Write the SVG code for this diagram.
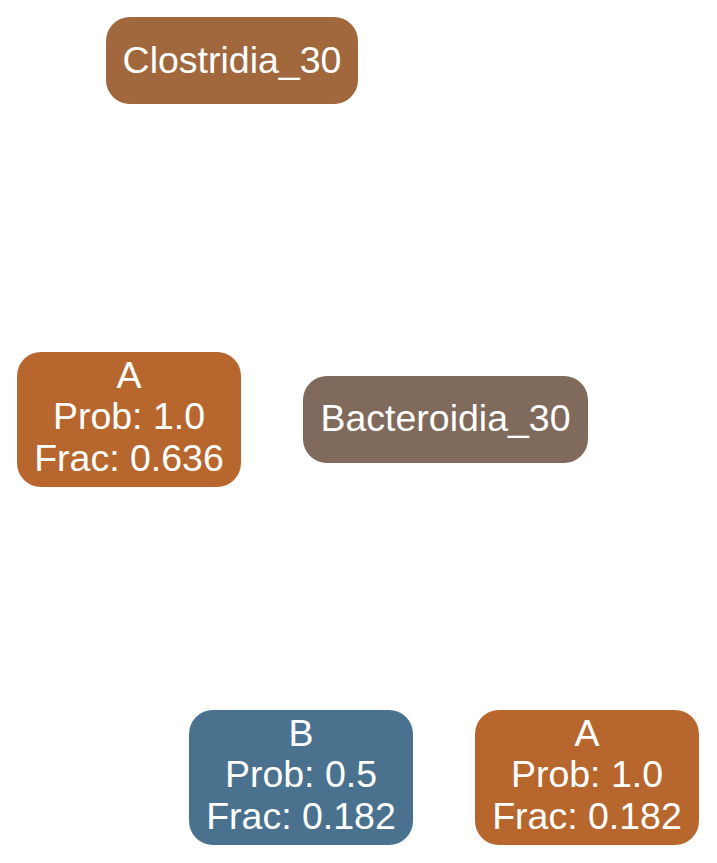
<svg xmlns="http://www.w3.org/2000/svg" width="717" height="863" viewBox="0 0 717 863">
<style>
text{font-family:"Liberation Sans",Arial,Helvetica,sans-serif;font-size:37.5px;fill:#ffffff;text-anchor:middle}
</style>
<rect width="717" height="863" fill="#ffffff"/>
<g id="connectors"></g>
<g id="clostridia_30">
<rect x="106" y="17" width="252" height="87" rx="24" fill="#A1683D"/>
<text x="232" y="73">Clostridia_30</text>
</g>
<g id="a_left">
<rect x="17" y="352" width="224" height="135" rx="24" fill="#B7672E"/>
<text x="129" y="388">A</text>
<text x="129" y="429">Prob: 1.0</text>
<text x="129" y="471">Frac: 0.636</text>
</g>
<g id="bacteroidia_30">
<rect x="303" y="376" width="285" height="87" rx="24" fill="#7F6A5C"/>
<text x="445.5" y="431">Bacteroidia_30</text>
</g>
<g id="b_node">
<rect x="189" y="710" width="224" height="135" rx="24" fill="#4A728F"/>
<text x="301" y="746">B</text>
<text x="301" y="787">Prob: 0.5</text>
<text x="301" y="829">Frac: 0.182</text>
</g>
<g id="a_right">
<rect x="475" y="710" width="224" height="135" rx="24" fill="#B7672E"/>
<text x="587" y="746">A</text>
<text x="587" y="787">Prob: 1.0</text>
<text x="587" y="829">Frac: 0.182</text>
</g>
</svg>
